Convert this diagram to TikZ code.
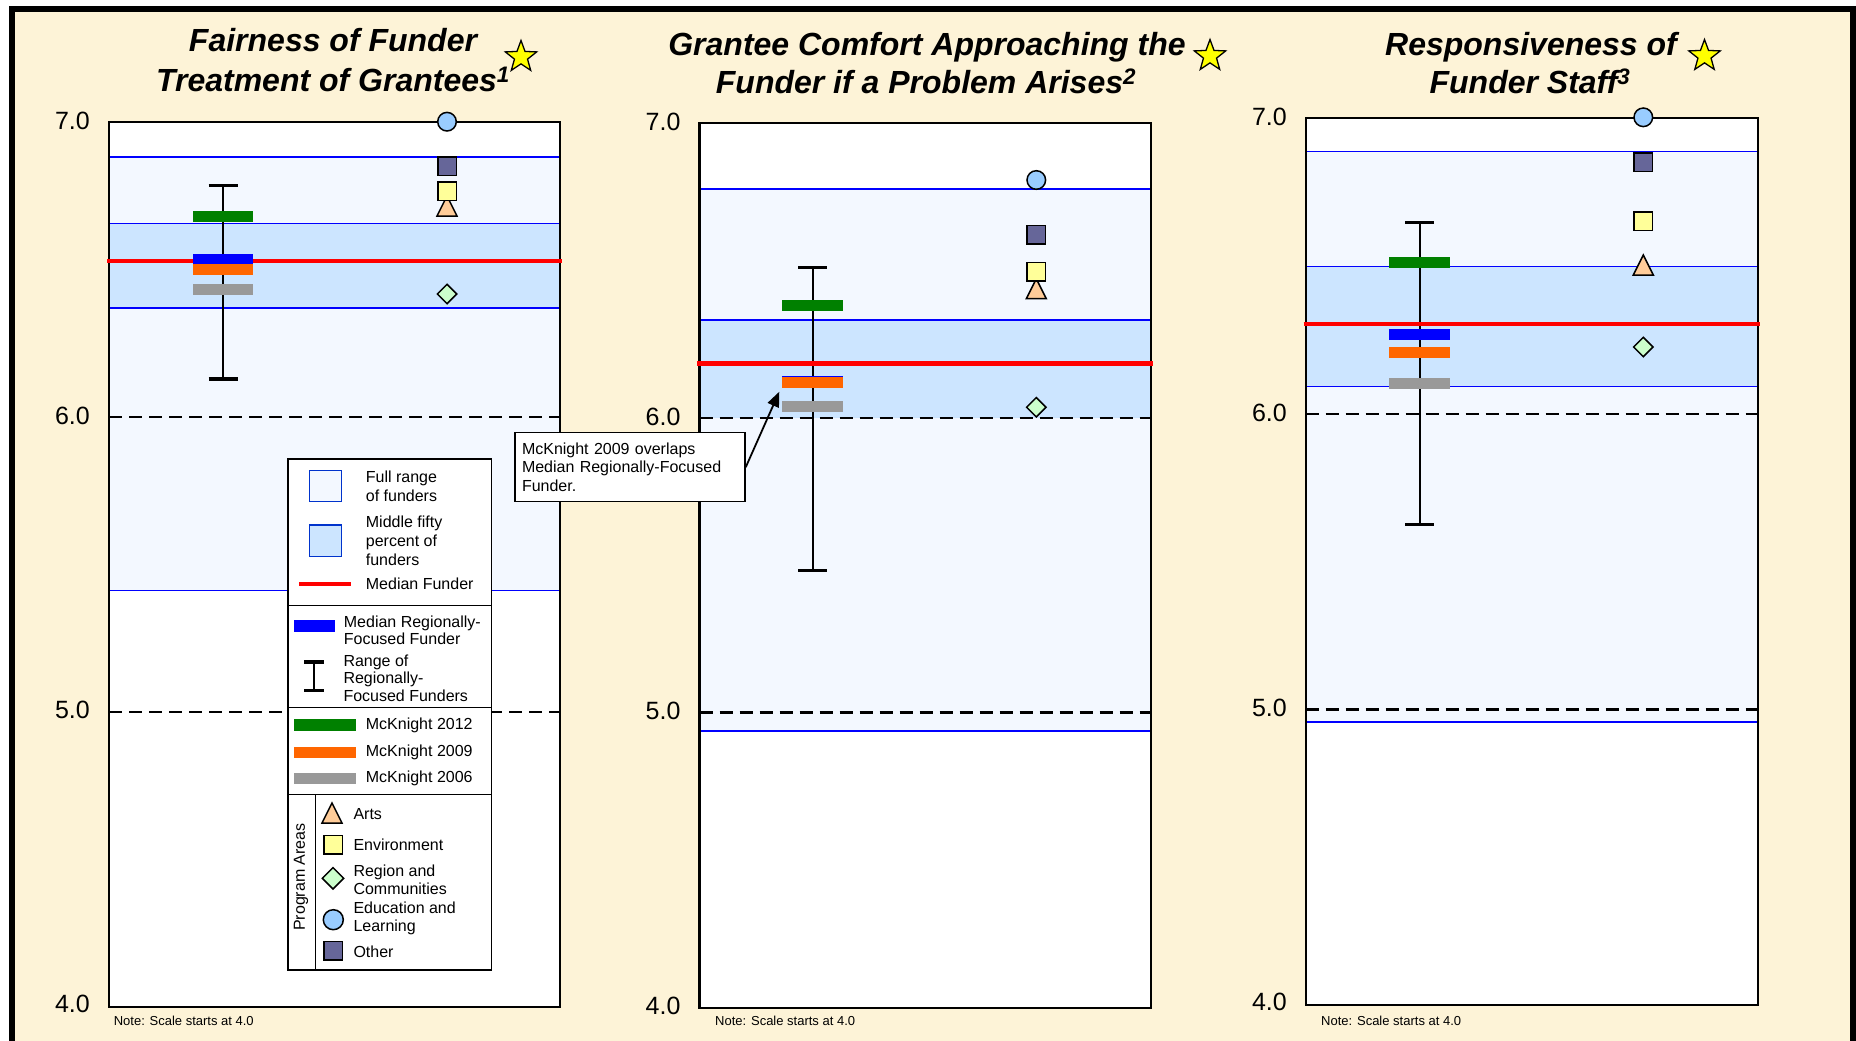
\documentclass[tikz,border=0pt]{standalone}
\usepackage{fontspec}
\setmainfont{Liberation Sans}
\usetikzlibrary{arrows.meta,shapes.geometric,positioning}

\definecolor{cream}{RGB}{253,243,215}
\definecolor{fullblue}{RGB}{243,248,255}
\definecolor{midblue}{RGB}{204,229,255}
\definecolor{boxblue}{RGB}{0,51,204}
\definecolor{mck12}{RGB}{0,128,0}
\definecolor{regblue}{RGB}{0,0,255}
\definecolor{mck09}{RGB}{255,102,0}
\definecolor{mck06}{RGB}{153,153,153}
\definecolor{edublue}{RGB}{153,204,255}
\definecolor{otherpurple}{RGB}{102,102,153}
\definecolor{envyellow}{RGB}{255,255,153}
\definecolor{artsorange}{RGB}{255,204,153}
\definecolor{regreen}{RGB}{204,255,204}
\definecolor{staryellow}{RGB}{255,255,0}

\newcommand{\titlefont}{\fontsize{32}{40}\selectfont\bfseries\itshape}
\newcommand{\axisfont}{\fontsize{25}{30}\selectfont}
\newcommand{\legendfont}{\fontsize{16}{17.5}\selectfont}
\newcommand{\notefont}{\fontsize{13}{15}\selectfont}
\newcommand{\artsmark}[2]{\filldraw[artsstyle] (#1,#2) ++(-10,10) -- ++(20,0) -- ++(-10,-20) -- cycle;}

\tikzset{
  outerframe/.style={line width=6.5pt},
  plotframe/.style={line width=2.2pt},
  fullband/.style={fill=fullblue},
  midband/.style={fill=midblue},
  rangeline/.style={regblue, line width=1.5pt},
  gridline/.style={dash pattern=on 13pt off 7pt, line width=2pt},
  medianline/.style={red, line width=4.5pt},
  errbar/.style={line width=1.8pt},
  errcap/.style={line width=3.5pt},
  bar/.style={rectangle, inner sep=0pt, minimum width=60.6pt, minimum height=11pt},
  edumark/.style={circle, draw, line width=1.5pt, fill=edublue, inner sep=0pt, minimum size=18.6pt},
  othermark/.style={rectangle, draw, line width=1.5pt, fill=otherpurple, inner sep=0pt, minimum size=18.5pt},
  envmark/.style={rectangle, draw, line width=1.5pt, fill=envyellow, inner sep=0pt, minimum size=18.5pt},
  regmark/.style={diamond, draw, line width=1.5pt, fill=regreen, inner sep=0pt, minimum size=20pt},
  artsstyle/.style={draw, line width=1.5pt, fill=artsorange, line join=miter},
  starmark/.style={star, star points=5, star point ratio=2.4, draw, line width=1.3pt, fill=staryellow, inner sep=0pt, minimum size=33pt},
  charttitle/.style={font=\titlefont, anchor=base, inner sep=0pt},
  ylabel/.style={font=\axisfont, anchor=east, inner sep=0pt},
  scalenote/.style={font=\notefont, anchor=west, inner sep=0pt},
  legtext/.style={font=\legendfont, align=left, anchor=west, inner sep=0pt},
  callout/.style={draw, line width=1.5pt, fill=white, font=\fontsize{16}{18.5}\selectfont, align=left, text width=216pt, inner xsep=7pt, minimum height=69pt},
  calloutarrow/.style={-{Triangle[length=15pt,width=12pt]}, line width=1.8pt}
}

\begin{document}
\begin{tikzpicture}[x=1pt,y=-1pt]
  \useasboundingbox (0,0) rectangle (1856,1041);
  \fill[white] (0,0) rectangle (1856,1041);
  \fill[cream] (12,9) rectangle (1853.5,1045);               % page background
  \draw[outerframe] (12,1045) -- (12,9) -- (1853.5,9) -- (1853.5,1045);

  %% ---------------- Panel 1 : fairness ----------------
  \node[charttitle] (t1a) at (333,52) {Fairness of Funder};
  \node[charttitle] (t1b) at (333,92) {Treatment of Grantees\textsuperscript{1}};
  \node[starmark] (star1) at (521,57) {};

  \fill[white] (109,122) rectangle (560,1007);
  \fill[fullband] (109,157) rectangle (560,590.7);            % full range
  \fill[midband] (109,223.7) rectangle (560,308);             % middle fifty
  \draw[rangeline] (109,157) -- (560,157);
  \draw[rangeline] (109,223.7) -- (560,223.7);
  \draw[rangeline] (109,308) -- (560,308);
  \draw[rangeline] (109,590.7) -- (560,590.7);
  \draw[gridline] (109,417) -- (560,417);
  \draw[gridline] (109,712) -- (560,712);
  \draw[plotframe] (109,122) rectangle (560,1007);

  \draw[errbar] (223,185.7) -- (223,379);                     % regional range
  \draw[errcap] (208.5,185.7) -- (237.5,185.7);
  \draw[errcap] (208.5,379) -- (237.5,379);
  \draw[medianline] (107,261) -- (562,261);                   % median funder
  \node[bar, fill=mck12] at (223,216.7) {};
  \node[bar, fill=regblue] at (223,259) {};
  \node[bar, fill=mck09] at (223,269.5) {};
  \node[bar, fill=mck06] at (223,289) {};

  \node[othermark] at (447,166) {};
  \artsmark{447}{206}
  \node[envmark] at (447,191) {};
  \node[regmark] at (447,294) {};
  \node[edumark] at (447,121.7) {};

  \node[ylabel] (p1v7) at (90,121) {7.0};
  \node[ylabel] (p1v6) at (90,416) {6.0};
  \node[ylabel] (p1v5) at (90,710) {5.0};
  \node[ylabel] (p1v4) at (90,1004) {4.0};
  \node[scalenote] (p1note) at (113.6,1021) {Note: Scale starts at 4.0};

  % legend
  \filldraw[fill=white, line width=1.5pt] (288,459) rectangle (491.7,970);
  \draw[line width=1.5pt] (288,605.7) -- (491.7,605.7);
  \draw[line width=1.5pt] (288,707.7) -- (491.7,707.7);
  \draw[line width=1.5pt] (288,794.5) -- (491.7,794.5);
  \draw[line width=1.5pt] (315.7,794.5) -- (315.7,970);

  \filldraw[fill=fullblue, draw=boxblue, line width=1.5pt] (309.3,470.7) rectangle (341.7,501.7);
  \node[legtext, font=\fontsize{16}{19}\selectfont] (lgfull) at (365.7,486.2) {Full range\\of funders};
  \filldraw[fill=midblue, draw=boxblue, line width=1.5pt] (309.3,525) rectangle (341.7,556.7);
  \node[legtext, font=\fontsize{16}{19}\selectfont] (lgmid) at (365.7,540.8) {Middle fifty\\percent of\\funders};
  \draw[medianline] (299,584) -- (350.7,584);
  \node[legtext] (lgmed) at (365.7,584) {Median Funder};

  \fill[regblue] (294,620) rectangle (335,631.7);
  \node[legtext] (lgreg) at (343.7,630.3) {Median Regionally-\\Focused Funder};
  \draw[errbar] (314,662) -- (314,690.7);
  \draw[errcap] (304.3,662) -- (324.3,662);
  \draw[errcap] (304.3,690.7) -- (324.3,690.7);
  \node[legtext] (lgrange) at (343.3,678) {Range of\\Regionally-\\Focused Funders};

  \fill[mck12] (294,719.3) rectangle (356,730.7);
  \node[legtext] (lg12) at (365.7,725) {McKnight 2012};
  \fill[mck09] (294,746.7) rectangle (356,758.3);
  \node[legtext] (lg09) at (365.7,752) {McKnight 2009};
  \fill[mck06] (294,772.7) rectangle (356,784.3);
  \node[legtext] (lg06) at (365.7,778.5) {McKnight 2006};

  \node[font=\legendfont, rotate=90, inner sep=0pt] (lgprog) at (301,877) {Program Areas};
  \artsmark{332}{813}
  \node[legtext] (lgarts) at (353.3,814) {Arts};
  \node[envmark] at (333,844.7) {};
  \node[legtext] (lgenv) at (353.3,844.5) {Environment};
  \node[regmark, minimum size=22pt] at (333,878.3) {};
  \node[legtext] (lgregion) at (353.3,879.7) {Region and\\Communities};
  \node[edumark, minimum size=20pt] at (333.3,919.7) {};
  \node[legtext] (lgedu) at (353.3,918.3) {Education and\\Learning};
  \node[othermark] at (333,950.5) {};
  \node[legtext] (lgother) at (353.3,951.5) {Other};

  %% ---------------- Panel 2 : comfort ----------------
  \node[charttitle] (t2a) at (927,56) {Grantee Comfort Approaching the};
  \node[charttitle] (t2b) at (926,94) {Funder if a Problem Arises\textsuperscript{2}};
  \node[starmark] (star2) at (1210,56) {};

  \fill[white] (699.5,122.7) rectangle (1150.7,1007.7);
  \fill[fullband] (699.5,189) rectangle (1150.7,731);
  \fill[midband] (699.5,320) rectangle (1150.7,417.7);
  \draw[rangeline] (699.5,189) -- (1150.7,189);
  \draw[rangeline] (699.5,320) -- (1150.7,320);
  \draw[rangeline] (699.5,731) -- (1150.7,731);
  \draw[gridline] (699.5,417.7) -- (1150.7,417.7);
  \draw[gridline, line width=2.6pt] (699.5,712.7) -- (1150.7,712.7);
  \draw[plotframe] (699.5,122.7) rectangle (1150.7,1007.7);

  \draw[errbar] (812.7,267.7) -- (812.7,570.7);
  \draw[errcap] (798.2,267.7) -- (827.2,267.7);
  \draw[errcap] (798.2,570.7) -- (827.2,570.7);
  \draw[medianline] (697.3,363.3) -- (1153.3,363.3);
  \node[bar, fill=mck12] at (812.7,305) {};
  \node[bar, fill=regblue] at (812.7,381) {};
  \node[bar, fill=mck09] at (812.7,382.6) {};
  \node[bar, fill=mck06] at (812.7,406.7) {};

  \node[edumark] at (1036.3,180) {};
  \node[othermark] at (1036.3,234.7) {};
  \artsmark{1036.3}{288.7}
  \node[envmark] at (1036.3,271.7) {};
  \node[regmark] at (1036.3,407.3) {};

  \node[ylabel] (p2v7) at (680.6,122) {7.0};
  \node[ylabel] (p2v6) at (680.6,416.7) {6.0};
  \node[ylabel] (p2v5) at (680.6,711) {5.0};
  \node[ylabel] (p2v4) at (680.6,1006) {4.0};
  \node[scalenote] (p2note) at (715,1021) {Note: Scale starts at 4.0};

  %% ---------------- Panel 3 : responsiveness ----------------
  \node[charttitle] (t3a) at (1531,56) {Responsiveness of};
  \node[charttitle] (t3b) at (1530,94) {Funder Staff\textsuperscript{3}};
  \node[starmark] (star3) at (1704.5,56) {};

  \fill[white] (1305.6,118.3) rectangle (1757.8,1005);
  \fill[fullband] (1305.6,151.7) rectangle (1757.8,722);
  \fill[midband] (1305.6,266.7) rectangle (1757.8,386.7);
  \draw[rangeline] (1305.6,151.7) -- (1757.8,151.7);
  \draw[rangeline] (1305.6,266.7) -- (1757.8,266.7);
  \draw[rangeline] (1305.6,386.7) -- (1757.8,386.7);
  \draw[rangeline] (1305.6,722) -- (1757.8,722);
  \draw[gridline] (1305.6,414) -- (1757.8,414);
  \draw[gridline, line width=2.6pt] (1305.6,709.4) -- (1757.8,709.4);
  \draw[plotframe] (1305.6,118.3) rectangle (1757.8,1005);

  \draw[errbar] (1419.7,222.7) -- (1419.7,524.4);
  \draw[errcap] (1405.2,222.7) -- (1434.2,222.7);
  \draw[errcap] (1405.2,524.4) -- (1434.2,524.4);
  \draw[medianline] (1303.5,324) -- (1760,324);
  \node[bar, fill=mck12] at (1419.7,262) {};
  \node[bar, fill=regblue] at (1419.7,334) {};
  \node[bar, fill=mck09] at (1419.7,352) {};
  \node[bar, fill=mck06] at (1419.7,383) {};

  \node[othermark] at (1643.3,162) {};
  \node[envmark] at (1643.3,221) {};
  \artsmark{1643.3}{265}
  \node[regmark] at (1643.3,347) {};
  \node[edumark] at (1643.3,117.3) {};

  \node[ylabel] (p3v7) at (1287,117) {7.0};
  \node[ylabel] (p3v6) at (1287,412.5) {6.0};
  \node[ylabel] (p3v5) at (1287,707.5) {5.0};
  \node[ylabel] (p3v4) at (1287,1002) {4.0};
  \node[scalenote] (p3note) at (1321,1021) {Note: Scale starts at 4.0};

  %% callout for the 2009 overlap
  \node[callout] (note2009) at (630,467.2) {McKnight 2009 overlaps\\Median Regionally-Focused\\Funder.};
  \coordinate (tip2009) at (779.3,391.7);
  \draw[calloutarrow] (note2009.east) -- (tip2009);
\end{tikzpicture}
\end{document}
